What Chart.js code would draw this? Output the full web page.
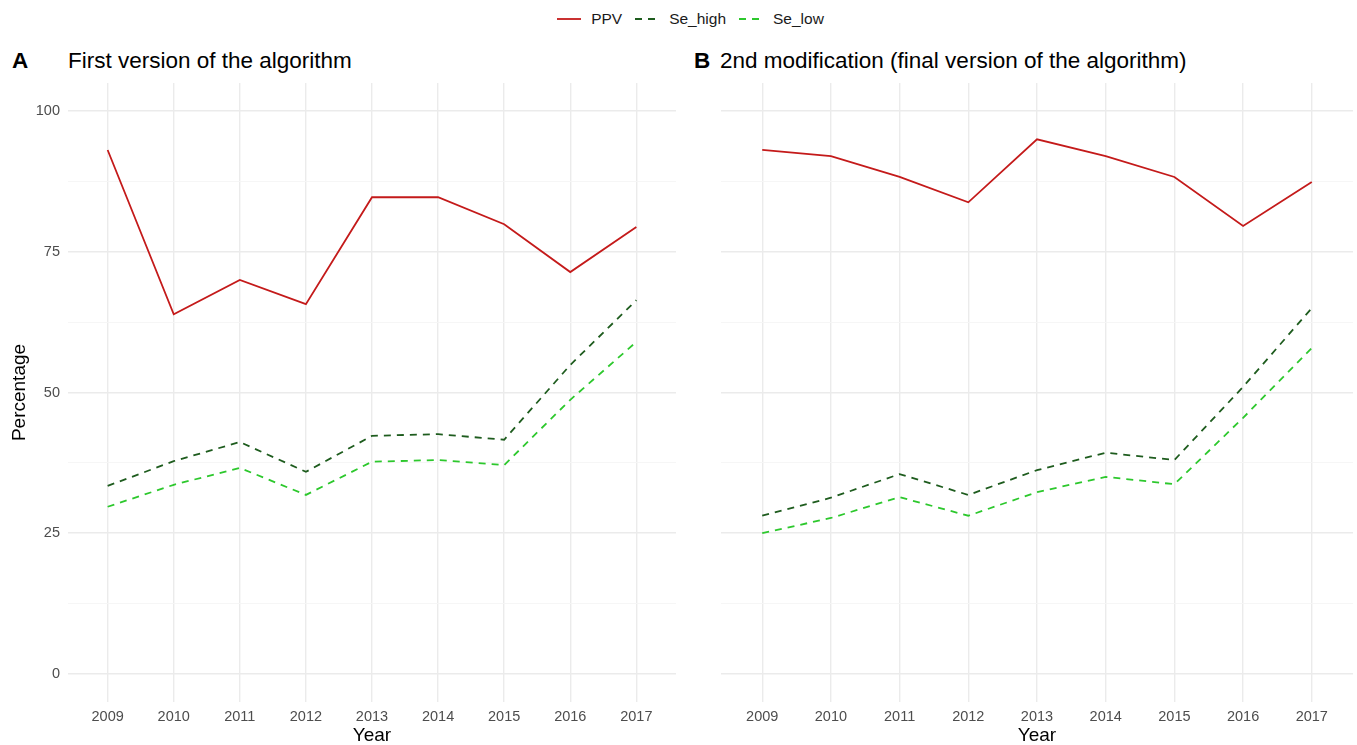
<!DOCTYPE html>
<html>
<head>
<meta charset="utf-8">
<script src="https://cdn.jsdelivr.net/npm/chart.js@4"></script>
<style>
  body { margin: 0; background: #fff; font-family: "Liberation Sans", Arial, sans-serif; }
  #wrap { position: relative; width: 1357px; height: 745px; overflow: hidden; }
  canvas { position: absolute; }
  .tag { position: absolute; font-size: 22.5px; font-weight: bold; line-height: 24px; color: #000; }
  .ttl { position: absolute; font-size: 22.5px; line-height: 24px; color: #000; }
  #legend { position: absolute; top: 9px; left: 0; width: 1380px; display: flex; justify-content: center; align-items: center; font-size: 15.5px; color: #1a1a1a; }
  #legend .item { display: flex; align-items: center; margin: 0 6px; }
  #legend svg { margin-right: 9px; }
</style>
</head>
<body>
<div id="wrap">
  <div id="legend">
    <div class="item"><svg width="26" height="20"><line x1="1" y1="10" x2="25" y2="10" stroke="#C41A1A" stroke-width="1.8"/></svg>PPV</div>
    <div class="item"><svg width="26" height="20"><line x1="1" y1="10" x2="25" y2="10" stroke="#1E5C1E" stroke-width="1.8" stroke-dasharray="7 6"/></svg>Se_high</div>
    <div class="item"><svg width="26" height="20"><line x1="1" y1="10" x2="25" y2="10" stroke="#2DC82D" stroke-width="1.8" stroke-dasharray="7 6"/></svg>Se_low</div>
  </div>
  <div class="tag" style="left:12px; top:49px;">A</div>
  <div class="ttl" style="left:68px; top:49px;">First version of the algorithm</div>
  <div class="tag" style="left:694px; top:49px;">B</div>
  <div class="ttl" style="left:720px; top:49px;">2nd modification (final version of the algorithm)</div>
  <canvas id="chartA" width="676" height="662" style="left:0px; top:83px;"></canvas>
  <canvas id="chartB" width="632" height="662" style="left:721px; top:83px;"></canvas>
</div>
<script>
// years on the x axis
const years = [2009, 2010, 2011, 2012, 2013, 2014, 2015, 2016, 2017];

// panel A: first version of the algorithm
const ppvA    = [93.1, 63.9, 70.0, 65.7, 84.7, 84.7, 79.9, 71.4, 79.4];
const seHighA = [33.4, 37.8, 41.2, 35.9, 42.3, 42.6, 41.6, 54.9, 66.4];
const seLowA  = [29.7, 33.6, 36.6, 31.8, 37.7, 38.0, 37.1, 48.7, 59.0];

// panel B: 2nd modification
const ppvB    = [93.1, 92.0, 88.3, 83.8, 95.0, 92.0, 88.3, 79.6, 87.4];
const seHighB = [28.1, 31.3, 35.5, 31.8, 36.2, 39.3, 38.0, 51.0, 65.0];
const seLowB  = [25.0, 27.7, 31.4, 28.1, 32.3, 35.0, 33.7, 45.5, 57.9];

// y ticks (labelled) and grid lines (major + minor)
const yTickLabels = [0, 25, 50, 75, 100];
const yGrid = [0, 12.5, 25, 37.5, 50, 62.5, 75, 87.5, 100];

const colPPV = "#C41A1A";
const colHigh = "#1E5C1E";
const colLow = "#2DC82D";

function pts(vals) {
  return years.map((yr, i) => ({ x: yr, y: vals[i] }));
}

function makeChart(id, ppv, high, low, showY) {
  const data = {
    datasets: [
      { label: "PPV", data: pts(ppv), borderColor: colPPV, borderWidth: 1.8 },
      { label: "Se_high", data: pts(high), borderColor: colHigh, borderWidth: 1.8, borderDash: [7, 6] },
      { label: "Se_low", data: pts(low), borderColor: colLow, borderWidth: 1.8, borderDash: [7, 6] },
    ],
  };

  const config = {
    type: "line",
    data: data,
    options: {
      responsive: false,
      animation: false,
      layout: { padding: 0 },
      elements: { point: { radius: 0 }, line: { tension: 0 } },
      plugins: { legend: { display: false }, tooltip: { enabled: false } },
      scales: {
        x: {
          type: "linear",
          min: 2008.4,
          max: 2017.6,
          afterBuildTicks: (s) => { s.ticks = years.map((v) => ({ value: v })); },
          afterFit: (s) => { s.height = 43; s.paddingLeft = 0; s.paddingRight = 0; },
          border: { display: false },
          grid: { color: "#ebebeb", lineWidth: 1.4, drawTicks: false },
          ticks: {
            padding: 6,
            color: "#4d4d4d",
            font: { family: "Liberation Sans", size: 14.5 },
            callback: (v) => String(v),
          },
          title: {
            display: true,
            text: "Year",
            color: "#000",
            padding: { top: 0, bottom: 0 },
            font: { family: "Liberation Sans", size: 19, lineHeight: 1 },
          },
        },
        y: {
          min: -5,
          max: 105,
          afterBuildTicks: (s) => { s.ticks = yGrid.map((v) => ({ value: v })); },
          afterFit: (s) => { s.width = showY ? 68 : 0; s.paddingTop = 0; s.paddingBottom = 0; },
          border: { display: false },
          grid: {
            drawTicks: false,
            color: (c) => (yTickLabels.includes(c.tick.value) ? "#ebebeb" : "#f5f5f5"),
            lineWidth: (c) => (yTickLabels.includes(c.tick.value) ? 1.4 : 0.9),
          },
          ticks: {
            display: showY,
            padding: 8,
            color: "#4d4d4d",
            font: { family: "Liberation Sans", size: 14.5 },
            callback: (v) => (yTickLabels.includes(v) ? String(v) : ""),
          },
          title: {
            display: showY,
            text: "Percentage",
            color: "#000",
            padding: { top: 10, bottom: 0 },
            font: { family: "Liberation Sans", size: 19, lineHeight: 1 },
          },
        },
      },
    },
  };
  return new Chart(document.getElementById(id), config);
}

makeChart("chartA", ppvA, seHighA, seLowA, true);
makeChart("chartB", ppvB, seHighB, seLowB, false);
</script>
</body>
</html>
